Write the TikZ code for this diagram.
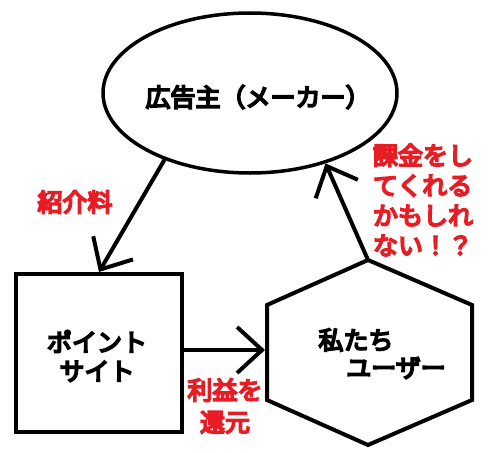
\documentclass[tikz,border=0pt]{standalone}
\usepackage{fontspec}
\newfontfamily\cjk{Noto Sans CJK JP}[AutoFakeBold=7]
\usetikzlibrary{arrows.meta,shapes.geometric}
\definecolor{redtxt}{RGB}{232,28,36}
\tikzset{
  bk/.style={font=\cjk\bfseries\fontsize{25}{30}\selectfont, text=black, inner sep=0pt},
  rd/.style={font=\cjk\bfseries\fontsize{25}{30}\selectfont, text=redtxt, inner sep=0pt},
  shp/.style={draw=black, line width=4pt},
  arr/.style={line width=4pt, -{Straight Barb[length=25pt,width=46pt,line width=4pt]}}
}
\begin{document}
\begin{tikzpicture}[x=1pt,y=-1pt]
\useasboundingbox (0,0) rectangle (500,452);
\fill[white] (0,0) rectangle (500,452);
% ellipse
\node[ellipse, draw=black, line width=3.5pt, minimum width=294pt, minimum height=160pt, inner sep=0pt] (ad) at (250,93) {};
\node[bk] (adt) at (258,97) {広告主（メーカー）};
% square
\node[shp, rectangle, minimum width=166pt, minimum height=158pt, inner sep=0pt] (pt) at (99,353) {};
\node[bk, align=center] (ptt) at (97,356) {ポイント\\[-1pt]サイト};
% hexagon
\coordinate (hT) at (368,260);
\coordinate (hUR) at (472,305);
\coordinate (hLR) at (472,400);
\coordinate (hB) at (368,445);
\coordinate (hLL) at (267,400);
\coordinate (hUL) at (267,305);
\draw[shp, line join=miter] (hT) -- (hUR) -- (hLR) -- (hB) -- (hLL) -- (hUL) -- cycle;
\node[bk] (u1) at (356,340) {私たち};
\node[bk] (u2) at (396,368) {ユーザー};
% arrows
\draw[arr] (ad.218) -- (pt.north);
\coordinate (hL) at (265,350);
\draw[arr] (pt.east |- hL) -- (hL);
\draw[arr] (hT) -- (ad.-43);
% red labels
\node[rd] (l1) at (75,202) {紹介料};
\node[rd, align=center] (l2) at (225,406) {利益を\\[2pt]還元};
\node[rd, align=left] (l3) at (423,200) {課金をし\\てくれる\\かもしれ\\ない！？};
\end{tikzpicture}
\end{document}
